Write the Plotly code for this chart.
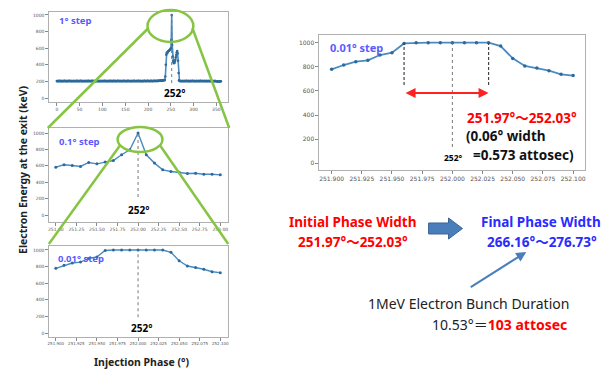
import plotly.graph_objects as go

W, H = 605, 370

# ---------------- data ----------------
# panel 1: 1 degree step, 0..360
phase_1deg = list(range(0, 361))
energy_1deg = [
    205, 203, 206, 204, 202, 205, 207, 204, 203, 206, 205, 202, 204, 206, 205, 203, 204, 207, 205, 203,
    204, 206, 203, 205, 204, 202, 205, 207, 204, 205, 203, 206, 204, 205, 202, 204, 206, 205, 203, 205,
    206, 204, 203, 205, 207, 204, 202, 205, 206, 203, 204, 205, 207, 203, 204, 206, 205, 202, 204, 205,
    203, 206, 205, 204, 202, 205, 206, 204, 203, 207, 205, 204, 203, 205, 206, 202, 204, 205, 207, 204,
    203, 205, 206, 204, 202, 206, 205, 203, 204, 207, 205, 203, 204, 206, 202, 205, 204, 206, 203, 205,
    204, 206, 205, 203, 204, 207, 205, 202, 204, 206, 205, 203, 206, 204, 205, 202, 205, 207, 204, 203,
    205, 206, 204, 203, 205, 207, 204, 202, 205, 206, 204, 203, 205, 206, 207, 204, 203, 205, 204, 206,
    205, 203, 204, 206, 205, 202, 204, 207, 205, 204, 203, 206, 205, 204, 202, 205, 207, 204, 205, 203,
    206, 205, 204, 203, 205, 206, 204, 202, 205, 207, 204, 206, 203, 205, 204, 206, 205, 203, 204, 207,
    205, 204, 203, 206, 205, 204, 202, 205, 206, 204, 203, 205, 207, 204, 205, 206, 203, 204, 205, 207,
    206, 204, 205, 203, 206, 205, 204, 207, 205, 203, 204, 206, 205, 207, 204, 205, 206, 204, 205, 207,
    206, 205, 207, 206, 208, 207, 209, 208, 210, 209, 212, 211, 213, 212, 215, 216, 214, 218, 260, 400,
    520, 545, 540, 555, 560, 565, 570, 575, 580, 585, 600, 700, 1000, 640, 500, 450, 430, 420, 425, 440,
    460, 490, 520, 550, 565, 540, 450, 300, 215, 205, 204, 206, 205, 203, 204, 206, 205, 204, 203, 205,
    206, 204, 203, 205, 207, 204, 205, 203, 206, 205, 204, 203, 205, 206, 204, 202, 205, 207, 204, 205,
    203, 206, 204, 205, 203, 204, 206, 205, 203, 204, 205, 206, 204, 203, 205, 207, 204, 203, 205, 204,
    206, 205, 203, 204, 206, 205, 204, 203, 205, 206, 204, 202, 205, 204, 206, 205, 203, 204, 205, 203,
    204, 206, 205, 203, 204, 203, 205, 204, 206, 203, 201, 203, 202, 200, 202, 201, 203, 202, 200, 202,
    201,
]

# panel 2: 0.1 degree step
phase_01 = [251.0, 251.1, 251.2, 251.3, 251.4, 251.5, 251.6, 251.7, 251.8, 251.9, 252.0,
            252.1, 252.2, 252.3, 252.4, 252.5, 252.6, 252.7, 252.8, 252.9, 253.0]
energy_01 = [584, 612, 604, 592, 641, 624, 645, 665, 735, 796, 1000,
             735, 633, 551, 531, 522, 506, 510, 498, 498, 490]

# panels 3 & 4: 0.01 degree step
phase_001 = [251.90, 251.91, 251.92, 251.93, 251.94, 251.95, 251.96, 251.97, 251.98, 251.99, 252.00,
             252.01, 252.02, 252.03, 252.04, 252.05, 252.06, 252.07, 252.08, 252.09, 252.10]
energy_001 = [779, 815, 843, 854, 898, 917, 994, 1000, 1000, 1000, 1000,
              1000, 1000, 1000, 972, 870, 807, 790, 768, 738, 727]

width_lo, width_hi = 251.96, 252.03

# ---------------- helpers ----------------
def px(x):
    return x / W

def py(y):
    return 1 - y / H

LINE = '#4a8bc2'
MARK = '#2c6a9c'
GREEN = '#86c443'
STEP = '#5a5aff'
FONT = 'Noto Sans, Noto Sans CJK JP, sans-serif'

fig = go.Figure()

def add_series(x, y, xa, ya, lw=1.4, ms=3):
    fig.add_trace(go.Scatter(x=x, y=y, mode='lines+markers', xaxis=xa, yaxis=ya,
                             line=dict(color=LINE, width=lw),
                             marker=dict(color=MARK, size=ms), hoverinfo='skip'))

add_series(phase_1deg, energy_1deg, 'x', 'y', lw=1.6, ms=2.5)
add_series(phase_01, energy_01, 'x2', 'y2')
add_series(phase_001, energy_001, 'x3', 'y3')
add_series(phase_001, energy_001, 'x4', 'y4', lw=1.8, ms=3.5)

def axis(domain, rng, dtick, fmt, fs, anchor, tick0=None):
    d = dict(domain=domain, range=rng, dtick=dtick, tickformat=fmt, anchor=anchor,
             showgrid=False, zeroline=False, showline=True, mirror=True, tickangle=0,
             linecolor='#b0b0b0', linewidth=1, ticks='outside', ticklen=2.5,
             tickcolor='#888', tickfont=dict(size=fs, color='#555', family='DejaVu Sans'))
    if tick0 is not None:
        d['tick0'] = tick0
    return d

left_dom = [px(48), px(228)]
fig.update_layout(
    xaxis=axis(left_dom, [-17.5, 376], 50, 'd', 4.5, 'y'),
    yaxis=axis([py(102), py(12)], [-48, 1036], 200, 'd', 4.5, 'x'),
    xaxis2=axis(left_dom, [250.915, 253.097], 0.25, '.2f', 4.5, 'y2', 251.0),
    yaxis2=axis([py(222), py(128)], [-85, 1061], 200, 'd', 4.5, 'x2'),
    xaxis3=axis(left_dom, [251.8915, 252.1097], 0.025, '.3f', 4, 'y3', 251.9),
    yaxis3=axis([py(337), py(246)], [-48, 1048], 200, 'd', 4.5, 'x3'),
    xaxis4=axis([px(319), px(586)], [251.8895, 252.1099], 0.025, '.3f', 6, 'y4', 251.9),
    yaxis4=axis([py(170), py(35)], [-56, 1064], 200, 'd', 6, 'x4'),
)

shapes = []
# reference / width lines
def vline(xv, y0, y1, xa, ya, dash, color='#777', w=1):
    shapes.append(dict(type='line', xref=xa, yref=ya, x0=xv, x1=xv, y0=y0, y1=y1,
                       line=dict(color=color, width=w, dash=dash), layer='above'))

vline(252, 180, 1000, 'x', 'y', 'dot')
vline(252, 220, 1000, 'x2', 'y2', 'dot')
vline(252, 190, 1000, 'x3', 'y3', 'dot')
vline(252, 135, 1000, 'x4', 'y4', 'dot')
vline(width_lo, 649, 1000, 'x4', 'y4', '3px,2px', '#444', 1.2)
vline(width_hi, 649, 1000, 'x4', 'y4', '3px,2px', '#444', 1.2)

# zoom ellipses and connecting lines
def ellipse(x0, y0, x1, y1):
    shapes.append(dict(type='circle', xref='paper', yref='paper', x0=px(x0), x1=px(x1),
                       y0=py(y1), y1=py(y0), line=dict(color=GREEN, width=2.5), layer='above'))

def gline(x0, y0, x1, y1):
    shapes.append(dict(type='line', xref='paper', yref='paper', x0=px(x0), y0=py(y0),
                       x1=px(x1), y1=py(y1), line=dict(color=GREEN, width=2.5), layer='above'))

ellipse(147, 10, 193, 42)
gline(148, 28, 47, 128)
gline(192, 28, 229, 128)
ellipse(117, 127, 162, 152)
gline(119, 146, 48, 244)
gline(160, 146, 228, 244)

# block arrow
pts = [(429, 223), (449, 223), (449, 218), (463, 228.5), (449, 239), (449, 234), (429, 234)]
path = 'M ' + ' L '.join(f'{px(a):.5f},{py(b):.5f}' for a, b in pts) + ' Z'
shapes.append(dict(type='path', xref='paper', yref='paper', path=path,
                   fillcolor='#4a7ebb', line=dict(color='#3a6496', width=1)))

fig.update_layout(shapes=shapes)

anns = []
def text(t, x, y, size, color='black', bold=True, xanchor='center', bg=None, family=FONT):
    a = dict(text=(f'<b>{t}</b>' if bold else t), x=px(x), y=py(y), xref='paper', yref='paper',
             showarrow=False, xanchor=xanchor, yanchor='middle',
             font=dict(size=size, color=color, family=family))
    if bg:
        a['bgcolor'] = bg
        a['borderpad'] = 1
    anns.append(a)

deg = '°'
text(f'1{deg} step', 56, 21, 9.5, STEP, xanchor='left')
text(f'0.1{deg} step', 56, 141, 9.5, STEP, xanchor='left')
text(f'0.01{deg} step', 55, 258, 9.5, STEP, xanchor='left')
text(f'0.01{deg} step', 328, 47, 11, STEP, xanchor='left')

text(f'252{deg}', 174, 93, 10, bg='white')
text(f'252{deg}', 138, 210, 10, bg='white')
text(f'252{deg}', 141, 328, 10, bg='white')
text(f'252{deg}', 454, 157, 8.5, bg='white')

text(f'251.97{deg}～252.03{deg}', 466, 118, 13.5, '#ff0000', xanchor='left')
text(f'(0.06{deg} width', 465, 136, 13.5, '#111', xanchor='left')
text('=0.573 attosec)', 472, 155, 13.5, '#111', xanchor='left')

text('Initial Phase Width', 353, 222, 13.5, '#ff0000')
text(f'251.97{deg}～252.03{deg}', 353, 242, 13.5, '#ff0000')
text('Final Phase Width', 542, 222, 13.5, '#2b2bff')
text(f'266.16{deg}～276.73{deg}', 543, 242, 13.5, '#2b2bff')
text('1MeV Electron Bunch Duration', 469, 303, 14, '#222', bold=False)
text(f'10.53{deg}＝<b><span style="color:#ff0000">103 attosec</span></b>', 430, 324, 14, '#222',
     bold=False, xanchor='left')

text('Injection Phase (°)', 141, 362, 10.5, '#222')
anns.append(dict(text='<b>Electron Energy at the exit (keV)</b>', x=px(13), y=py(170),
                 xref='paper', yref='paper', showarrow=False, textangle=-90,
                 font=dict(size=10.5, color='#222', family=FONT)))

# red double arrow in right panel
anns.append(dict(x=width_hi, y=583, ax=width_lo, ay=583, xref='x4', yref='y4',
                 axref='x4', ayref='y4', showarrow=True, arrowside='end+start',
                 arrowhead=2, arrowsize=1, arrowwidth=2, arrowcolor='#ff2020', text=''))

# blue thin arrow pointing at final phase width
anns.append(dict(x=px(527), y=py(252), ax=470 - 527, ay=288 - 252, xref='paper', yref='paper',
                 axref='pixel', ayref='pixel', showarrow=True, arrowhead=2, arrowsize=1,
                 arrowwidth=2, arrowcolor='#4a7ebb', text=''))

fig.update_layout(annotations=anns, width=W, height=H, margin=dict(l=0, r=0, t=0, b=0),
                  paper_bgcolor='white', plot_bgcolor='white', showlegend=False)

fig.write_html('out.html')
